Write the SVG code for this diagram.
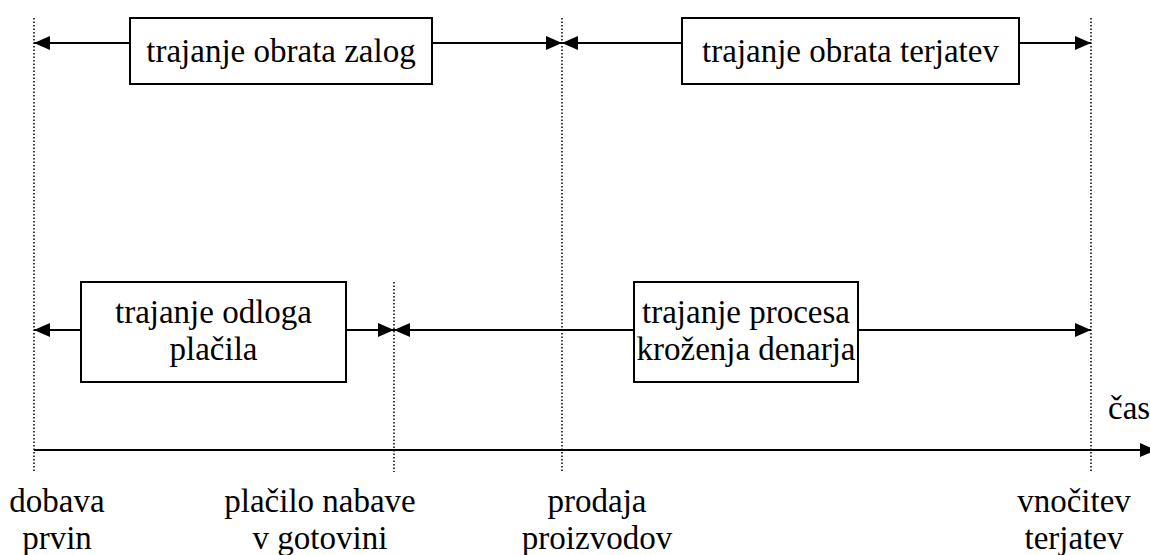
<svg xmlns="http://www.w3.org/2000/svg" width="1150" height="555" viewBox="0 0 1150 555">
<style>
  .box { fill: #fff; stroke: #000; stroke-width: 2; }
  .dot { stroke: #000; stroke-width: 1.5; stroke-dasharray: 1.5 2; fill: none; }
  .ln { stroke: #000; stroke-width: 2; fill: none; }
  text { font-family: 'Liberation Serif', 'Tinos', 'Times New Roman', 'Times', 'Noto Serif', 'DejaVu Serif', 'FreeSerif', 'Nimbus Roman', serif; }
</style>
<defs>
  <marker id="ah" viewBox="0 0 16 14" refX="16" refY="7" markerWidth="16" markerHeight="14" markerUnits="userSpaceOnUse" orient="auto">
    <path d="M0,0 L16,7 L0,14 Z" fill="#000"/>
  </marker>
</defs>
<rect width="1150" height="555" fill="#fff"/>
<g id="guides">
  <line class="dot" x1="34" y1="18" x2="34" y2="472"/>
  <line class="dot" x1="562" y1="18" x2="562" y2="472"/>
  <line class="dot" x1="1091" y1="18" x2="1091" y2="472"/>
  <line class="dot" x1="394" y1="282" x2="394" y2="472"/>
</g>
<g id="connectors">
  <line class="ln" x1="130" y1="43" x2="34" y2="43" marker-end="url(#ah)"/>
  <line class="ln" x1="432" y1="43" x2="562" y2="43" marker-end="url(#ah)"/>
  <line class="ln" x1="682" y1="43" x2="562" y2="43" marker-end="url(#ah)"/>
  <line class="ln" x1="1019" y1="43" x2="1091" y2="43" marker-end="url(#ah)"/>
  <line class="ln" x1="81" y1="330" x2="34" y2="330" marker-end="url(#ah)"/>
  <line class="ln" x1="346" y1="330" x2="394" y2="330" marker-end="url(#ah)"/>
  <line class="ln" x1="634" y1="330" x2="394" y2="330" marker-end="url(#ah)"/>
  <line class="ln" x1="858" y1="330" x2="1091" y2="330" marker-end="url(#ah)"/>
  <line class="ln" x1="34" y1="450" x2="1156" y2="450" marker-end="url(#ah)"/>
</g>
<g font-size="33" fill="#000" text-anchor="middle">
<g id="zaloge">
  <rect class="box" x="130" y="18" width="302" height="66"/>
  <text x="281" y="62">trajanje obrata zalog</text>
</g>
<g id="terjatve">
  <rect class="box" x="682" y="18" width="337" height="66"/>
  <text x="850.5" y="62">trajanje obrata terjatev</text>
</g>
<g id="odlog">
  <rect class="box" x="81" y="282" width="265" height="100"/>
  <text x="213.5" y="323">trajanje odloga</text>
  <text x="213.5" y="360">plačila</text>
</g>
<g id="proces">
  <rect class="box" x="634" y="282" width="224" height="100"/>
  <text x="746" y="323">trajanje procesa</text>
  <text x="746" y="360">kroženja denarja</text>
</g>
<g id="labels">
  <text x="1108" y="419" text-anchor="start">čas</text>
  <text x="57" y="512">dobava</text>
  <text x="57" y="549">prvin</text>
  <text x="320" y="512">plačilo nabave</text>
  <text x="320" y="549">v gotovini</text>
  <text x="597" y="512">prodaja</text>
  <text x="597" y="549">proizvodov</text>
  <text x="1074" y="512">vnočitev</text>
  <text x="1074" y="549">terjatev</text>
</g>
</g>
</svg>
